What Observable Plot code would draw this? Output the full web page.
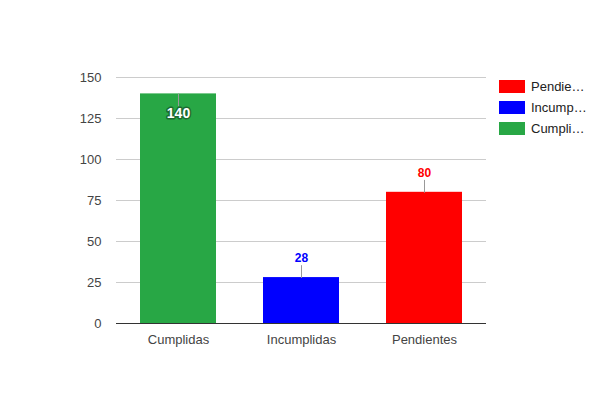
<!DOCTYPE html>
<html>
<head>
<meta charset="utf-8">
<script src="https://cdn.jsdelivr.net/npm/d3@7"></script>
<script src="https://cdn.jsdelivr.net/npm/@observablehq/plot@0.6"></script>
<style>
  html, body { margin: 0; padding: 0; background: #fff; }
  #wrap { position: relative; width: 600px; height: 400px; font-family: "Liberation Sans", Arial, sans-serif; }
  #legend { position: absolute; left: 499px; top: 76px; font-size: 13px; color: #222; }
  .row { display: flex; align-items: center; height: 21px; }
  .sw { width: 26px; height: 13px; margin-right: 6px; }
</style>
</head>
<body>
<div id="wrap"><div id="legend"></div></div>
<script>
const categories = ["Cumplidas", "Incumplidas", "Pendientes"];
const values = [140, 28, 80];
const colors = ["#28a745", "#0000ff", "#ff0000"];
const legendLabels = ["Pendie…", "Incump…", "Cumpli…"];
const legendColors = ["#ff0000", "#0000ff", "#28a745"];
const yTicks = [0, 25, 50, 75, 100, 125, 150];

const data = categories.map((c, i) => ({category: c, value: values[i], color: colors[i]}));
const inside = d => d.value > 130;

const stem = {
  draw(context, l) { context.moveTo(0, 0); context.lineTo(0, -l); }
};

const chart = Plot.plot({
  width: 600,
  height: 400,
  marginLeft: 116,
  marginRight: 114,
  marginTop: 77,
  marginBottom: 77,
  style: {fontFamily: "'Liberation Sans', Arial, sans-serif", fontSize: "13px", color: "#444", background: "#fff"},
  x: {domain: categories, paddingInner: 0.38, paddingOuter: 0.19, label: null, tickSize: 0, tickPadding: 11},
  y: {domain: [0, 150], ticks: yTicks, label: null, tickSize: 0, tickPadding: 15, grid: false},
  marks: [
    Plot.ruleY(yTicks.filter(t => t > 0), {stroke: "#ccc", strokeOpacity: 1}),
    Plot.barY(data, {x: "category", y: "value", fill: d => d.color}),
    Plot.ruleY([0], {stroke: "#333", strokeWidth: 1}),
    Plot.vector(data, {x: "category", y: "value", length: 12, anchor: "start", rotate: d => inside(d) ? 180 : 0, shape: stem, stroke: "#999", strokeWidth: 1}),
    Plot.text(data.filter(d => !inside(d)), {x: "category", y: "value", text: d => String(d.value), dy: -19, fill: d => d.color, fontWeight: "bold", fontSize: 12}),
    Plot.text(data.filter(inside), {x: "category", y: "value", text: d => String(d.value), dy: 20, fill: "#fff", stroke: "#1c6b30", strokeWidth: 3, paintOrder: "stroke", fontWeight: "bold", fontSize: 14})
  ]
});
chart.style.position = "absolute";
chart.style.left = "0";
chart.style.top = "0";
document.getElementById("wrap").prepend(chart);

const legend = document.getElementById("legend");
legendLabels.forEach((lab, i) => {
  const row = document.createElement("div");
  row.className = "row";
  const sw = document.createElement("div");
  sw.className = "sw";
  sw.style.background = legendColors[i];
  const t = document.createElement("span");
  t.textContent = lab;
  row.appendChild(sw);
  row.appendChild(t);
  legend.appendChild(row);
});
</script>
</body>
</html>
